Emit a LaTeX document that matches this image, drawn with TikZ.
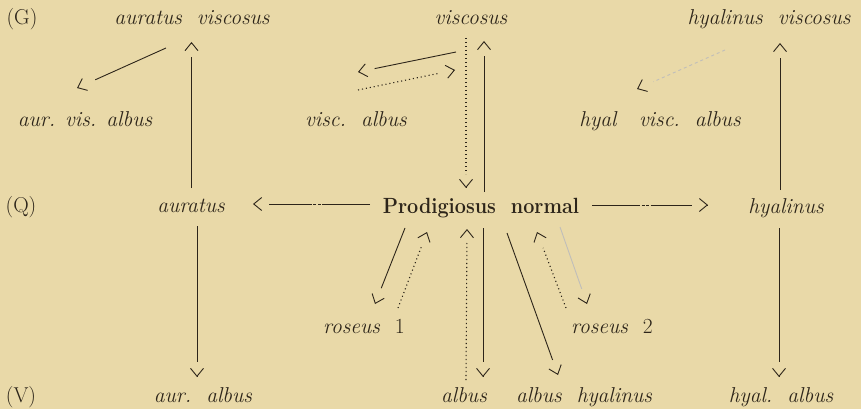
\documentclass[tikz,border=0pt]{standalone}
\usepackage{fontspec}
\usetikzlibrary{arrows.meta,calc}
\definecolor{paper}{RGB}{233,217,168}
\definecolor{ink}{RGB}{45,37,26}
\tikzset{
  lbl/.style={anchor=base,inner sep=0pt,text=ink,font=\fontsize{21.5}{26}\selectfont\itshape},
  rlbl/.style={anchor=base,inner sep=0pt,text=ink,font=\fontsize{21.5}{26}\selectfont},
  shaft/.style={draw=ink,line width=0.9pt},
  dots/.style={shaft,line width=1.1pt,dash pattern=on 1.1pt off 2.9pt},
  dashdot/.style={shaft,dash pattern=on 48pt off 1.5pt on 3pt off 1.5pt on 3pt off 1.5pt},
  faint/.style={draw=ink!30,line width=0.9pt},
  tipst/.style={draw=ink,solid,line width=0.9pt,-{Straight Barb[length=8pt,width=13pt]}}
}
\newcommand\arrw[3][]{%
  \draw[shaft,shorten >=15pt,#1] (#2) -- (#3);
  \draw[tipst] ($(#3)!1pt!(#2)$) -- (#3);}
\begin{document}
\begin{tikzpicture}[x=1pt,y=-1pt]
\fill[paper] (0,0) rectangle (861,409);
\useasboundingbox (0,0) rectangle (861,409);
% row labels
\node[rlbl] (G) at (22,25) {(G)};
\node[rlbl] (Q) at (21,212) {(Q)};
\node[rlbl] (V) at (21,402) {(V)};
% nodes
\node[lbl] (auvis) at (192,25) {auratus\ \ viscosus};
\node[lbl] (vis) at (471,25) {viscosus};
\node[lbl] (hyvis) at (769,25) {hyalinus\ \ viscosus};
\node[lbl] (auvisalb) at (85,127) {aur. vis. albus};
\node[lbl] (visalb) at (356,127) {visc.\ \ albus};
\node[lbl] (hyvisalb) at (660,127) {hyal\ \ \ visc.\ \ albus};
\node[lbl] (aur) at (191,212) {auratus};
\node[rlbl,font=\fontsize{22}{26}\selectfont\bfseries] (norm) at (481,213) {\scalebox{0.9}[1]{Prodigiosus\ \ normal}};
\node[lbl] (hyal) at (786,213) {hyalinus};
\node[lbl] (ros1) at (364,333) {roseus\ \ \upshape 1};
\node[lbl] (ros2) at (612,333) {roseus\ \ \upshape 2};
\node[lbl] (aualb) at (203,402) {aur.\ \ albus};
\node[lbl] (alb) at (464,402) {albus};
\node[lbl] (alhy) at (584,402) {albus\ \ hyalinus};
\node[lbl] (hyalb) at (781,402) {hyal.\ \ albus};
% connector end points
\coordinate (c1s) at (166,48);  \coordinate (c1e) at (77,88);
\coordinate (c2s) at (191.5,188); \coordinate (c2e) at (191.5,42);
\coordinate (c3s) at (197,226); \coordinate (c3e) at (197,377);
\coordinate (c4s) at (466,38);  \coordinate (c4e) at (466,188);
\coordinate (c5s) at (484,192); \coordinate (c5e) at (484,41);
\coordinate (c6s) at (456,52);  \coordinate (c6e) at (358,72);
\coordinate (c7s) at (358,90);  \coordinate (c7e) at (455,70);
\coordinate (c8s) at (370,204); \coordinate (c8e) at (253,204);
\coordinate (c9s) at (592,205); \coordinate (c9e) at (708,205);
\coordinate (c10s) at (725,50); \coordinate (c10e) at (637,89);
\coordinate (c11s) at (780,190); \coordinate (c11e) at (780,43);
\coordinate (c12s) at (779,228); \coordinate (c12e) at (779,377);
\coordinate (c13s) at (405,228); \coordinate (c13e) at (375,304);
\coordinate (c14s) at (398,308); \coordinate (c14e) at (427,232);
\coordinate (c15s) at (466,380); \coordinate (c15e) at (467,229);
\coordinate (c16s) at (483,228); \coordinate (c16e) at (483,377);
\coordinate (c17s) at (507,233); \coordinate (c17e) at (558,375);
\coordinate (c18s) at (560,227); \coordinate (c18e) at (587,304);
\coordinate (c19s) at (566,308); \coordinate (c19e) at (537,232);
% connectors
\arrw[shorten >=20pt]{c1s}{c1e}
\arrw{c2s}{c2e}
\arrw{c3s}{c3e}
\arrw[dots,shorten >=14pt]{c4s}{c4e}
\arrw{c5s}{c5e}
\arrw[shorten >=17pt]{c6s}{c6e}
\arrw[dots,shorten >=17pt]{c7s}{c7e}
\arrw[dashdot,shorten >=16pt]{c8s}{c8e}
\arrw[dashdot,shorten >=16pt]{c9s}{c9e}
\arrw[faint,dashed,shorten >=18pt]{c10s}{c10e}
\arrw{c11s}{c11e}
\arrw{c12s}{c12e}
\arrw[shorten >=17pt]{c13s}{c13e}
\arrw[dots,shorten >=15pt]{c14s}{c14e}
\arrw[dots,shorten >=14pt]{c15s}{c15e}
\arrw{c16s}{c16e}
\arrw[shorten >=16pt]{c17s}{c17e}
\arrw[faint,shorten >=16pt]{c18s}{c18e}
\arrw[dots,shorten >=17pt]{c19s}{c19e}
\end{tikzpicture}
\end{document}
